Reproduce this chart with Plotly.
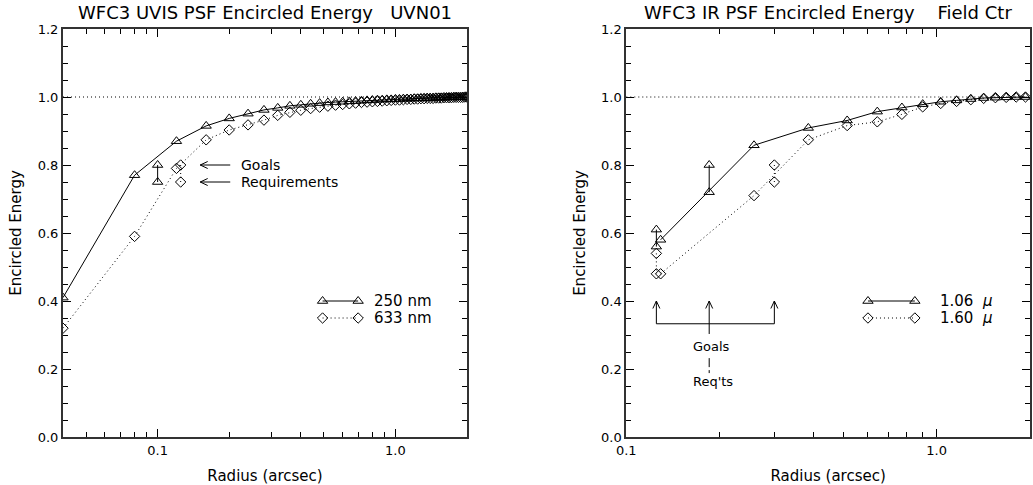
import math
import plotly.graph_objects as go

# ---------------- data ----------------
uvis_radius = [0.04, 0.08, 0.12, 0.16, 0.20, 0.24, 0.28, 0.32, 0.36, 0.40,
               0.44, 0.48, 0.52, 0.56, 0.60, 0.64, 0.68, 0.72, 0.76, 0.80,
               0.84, 0.88, 0.92, 0.96, 1.00, 1.04, 1.08, 1.12, 1.16, 1.20,
               1.24, 1.28, 1.32, 1.36, 1.40, 1.44, 1.48, 1.52, 1.56, 1.60,
               1.64, 1.68, 1.72, 1.76, 1.80, 1.84, 1.88, 1.92, 1.96, 2.00]
uvis_250nm = [0.41, 0.77, 0.87, 0.915, 0.937, 0.951, 0.962, 0.968, 0.974, 0.977,
              0.980, 0.982, 0.984, 0.985, 0.986, 0.987, 0.988, 0.989, 0.990, 0.991,
              0.992, 0.992, 0.993, 0.993, 0.994, 0.994, 0.995, 0.995, 0.995, 0.996,
              0.996, 0.996, 0.997, 0.997, 0.997, 0.997, 0.998, 0.998, 0.998, 0.998,
              0.998, 0.999, 0.999, 0.999, 0.999, 0.999, 0.999, 1.000, 1.000, 1.000]
uvis_633nm = [0.32, 0.59, 0.79, 0.874, 0.903, 0.918, 0.932, 0.946, 0.955, 0.961,
              0.966, 0.970, 0.973, 0.976, 0.978, 0.980, 0.982, 0.984, 0.985, 0.986,
              0.987, 0.988, 0.989, 0.990, 0.991, 0.991, 0.992, 0.993, 0.993, 0.994,
              0.994, 0.995, 0.995, 0.996, 0.996, 0.996, 0.997, 0.997, 0.997, 0.998,
              0.998, 0.998, 0.998, 0.999, 0.999, 0.999, 0.999, 0.999, 1.000, 1.000]

# goals / requirements (UVIS)
uvis_250_spec_r = [0.10, 0.10]
uvis_250_spec = [0.80, 0.75]
uvis_633_spec_r = [0.125, 0.125]
uvis_633_spec = [0.80, 0.75]

ir_radius = [0.129, 0.258, 0.386, 0.515, 0.644, 0.773, 0.902, 1.031, 1.16,
             1.289, 1.418, 1.547, 1.676, 1.805, 1.934]
ir_106 = [0.58, 0.858, 0.909, 0.931, 0.957, 0.969, 0.979, 0.986, 0.990,
          0.994, 0.997, 0.998, 0.999, 1.000, 1.000]
ir_160 = [0.48, 0.71, 0.874, 0.916, 0.927, 0.949, 0.971, 0.981, 0.987,
          0.992, 0.996, 0.998, 0.999, 1.000, 1.000]

# goals / requirements (IR)
ir_106_spec_r = [0.125, 0.185]
ir_106_goal = [0.61, 0.80]
ir_106_req = [0.56, 0.72]
ir_160_spec_r = [0.125, 0.30]
ir_160_goal = [0.54, 0.80]
ir_160_req = [0.48, 0.75]

# ---------------- style ----------------
W, H = 1033, 485
ML, MR, MT, MB = 63, 3, 29, 48
PW = W - ML - MR
PH = H - MT - MB
FONT = "DejaVu Sans"
BLACK = "#000000"
DOT = "1px,3px"
TRI = dict(symbol="triangle-up-open", size=9, color=BLACK, line=dict(width=1, color=BLACK))
DIA = dict(symbol="diamond-open", size=8, color=BLACK, line=dict(width=1, color=BLACK))

XR1 = [math.log10(0.04), math.log10(2.0)]
XR2 = [math.log10(0.1), math.log10(2.0)]
YR = [0, 1.2]
XD1 = [0, 404 / PW]
XD2 = [(626.3 - ML) / PW, 1]
# pixel scales (px per decade / px per unit)
SX1 = (XD1[1] - XD1[0]) * PW / (XR1[1] - XR1[0])
SX2 = (XD2[1] - XD2[0]) * PW / (XR2[1] - XR2[0])
SY = PH / (YR[1] - YR[0])

fig = go.Figure()


def add(x, y, xa, ya, marker=None, dash="solid", mode="lines+markers", width=1):
    fig.add_trace(go.Scatter(
        x=x, y=y, xaxis=xa, yaxis=ya, mode=mode,
        line=dict(color=BLACK, width=width, dash=dash),
        marker=marker, showlegend=False, hoverinfo="skip"))


# Left panel data
add(uvis_radius, uvis_250nm, "x", "y", TRI)
add(uvis_radius, uvis_633nm, "x", "y", DIA, DOT)
add(uvis_250_spec_r, uvis_250_spec, "x", "y", TRI)
add(uvis_633_spec_r, uvis_633_spec, "x", "y", DIA, DOT)

# Right panel data
add(ir_radius, ir_106, "x2", "y2", TRI)
add(ir_radius, ir_160, "x2", "y2", DIA, DOT)
for r, g, q in zip(ir_106_spec_r, ir_106_goal, ir_106_req):
    add([r, r], [g, q], "x2", "y2", TRI)
for r, g, q in zip(ir_160_spec_r, ir_160_goal, ir_160_req):
    add([r, r], [g, q], "x2", "y2", DIA, DOT)

# legends (drawn IDL-style inside the plot)
LEG_L = dict(x0=0.494, x1=0.697, tx=0.80, y1=0.40, y2=0.35)
LEG_R = dict(x0=0.601, x1=0.851, tx=1.01, y1=0.40, y2=0.35)
add([LEG_L["x0"], LEG_L["x1"]], [LEG_L["y1"]] * 2, "x", "y", TRI)
add([LEG_L["x0"], LEG_L["x1"]], [LEG_L["y2"]] * 2, "x", "y", DIA, DOT)
add([LEG_R["x0"], LEG_R["x1"]], [LEG_R["y1"]] * 2, "x2", "y2", TRI)
add([LEG_R["x0"], LEG_R["x1"]], [LEG_R["y2"]] * 2, "x2", "y2", DIA, DOT)

annotations = []


def text(x, y, s, xr, yr, size=14, xanchor="left"):
    annotations.append(dict(x=math.log10(x), y=y, xref=xr, yref=yr, text=s,
                            showarrow=False, xanchor=xanchor, yanchor="middle",
                            font=dict(family=FONT, size=size, color=BLACK)))


HEAD_L, HEAD_W = 7.5, 3.5  # arrowhead length / half-width in px

# Left panel: Goals / Requirements arrows (pointing left)
ARR_TAIL, ARR_TIP = 0.202, 0.151
ax_, ay_ = [], []
for yv in uvis_250_spec:
    ax_ += [ARR_TAIL, ARR_TIP, None]
    ay_ += [yv, yv, None]
    xb = 10 ** (math.log10(ARR_TIP) + HEAD_L / SX1)
    ax_ += [xb, ARR_TIP, xb, None]
    ay_ += [yv + HEAD_W / SY, yv, yv - HEAD_W / SY, None]
add(ax_, ay_, "x", "y", mode="lines")
text(0.22, uvis_250_spec[0], "Goals", "x", "y")
text(0.22, uvis_250_spec[1], "Requirements", "x", "y")

# Right panel: bracket with up arrows
BR_Y0, BR_Y1, BR_STEM = 0.333, 0.40, 0.303
spec_xs = [ir_106_spec_r[0], ir_106_spec_r[1], ir_160_spec_r[1]]
bx, by = [], []
for xs in spec_xs:
    bx += [xs, xs, None]
    by += [BR_Y0, BR_Y1, None]
    xl = 10 ** (math.log10(xs) - HEAD_W / SX2)
    xr = 10 ** (math.log10(xs) + HEAD_W / SX2)
    bx += [xl, xs, xr, None]
    by += [BR_Y1 - HEAD_L / SY, BR_Y1, BR_Y1 - HEAD_L / SY, None]
bx += [spec_xs[0], spec_xs[-1], None, spec_xs[1], spec_xs[1]]
by += [BR_Y0, BR_Y0, None, BR_Y0, BR_STEM]
add(bx, by, "x2", "y2", mode="lines")
add([spec_xs[1], spec_xs[1]], [0.232, 0.188], "x2", "y2", dash="dashdot", mode="lines")
text(0.1615, 0.265, "Goals", "x2", "y2", size=13)
text(0.1615, 0.164, "Req'ts", "x2", "y2", size=13)

text(LEG_L["tx"], LEG_L["y1"], "250 nm", "x", "y", size=15)
text(LEG_L["tx"], LEG_L["y2"], "633 nm", "x", "y", size=15)
text(LEG_R["tx"], LEG_R["y1"], "1.06  <i>\u03bc</i>", "x2", "y2", size=15)
text(LEG_R["tx"], LEG_R["y2"], "1.60  <i>\u03bc</i>", "x2", "y2", size=15)

# Titles
NB = "\u00a0"
TY = 1 + (MT - 13) / PH
annotations.append(dict(x=0.5, y=TY, xref="x domain", yref="paper", yanchor="middle",
                        text=f"WFC3 UVIS PSF Encircled Energy{NB*3}UVN01", showarrow=False,
                        font=dict(family=FONT, size=18, color=BLACK)))
annotations.append(dict(x=0.5, y=TY, xref="x2 domain", yref="paper", yanchor="middle",
                        text=f"WFC3 IR PSF Encircled Energy{NB*4}Field Ctr", showarrow=False,
                        font=dict(family=FONT, size=18, color=BLACK)))

minor_l = [0.05, 0.06, 0.07, 0.08, 0.09, 0.2, 0.3, 0.4, 0.5, 0.6, 0.7, 0.8, 0.9]
minor_r = [0.2, 0.3, 0.4, 0.5, 0.6, 0.7, 0.8, 0.9]


def xaxis(dom, rng, minor_vals, anchor):
    return dict(domain=dom, type="log", range=rng, anchor=anchor, automargin=False,
                tickvals=[0.1, 1.0], ticktext=["0.1", "1.0"],
                ticks="inside", ticklen=8, tickwidth=1, tickcolor=BLACK,
                minor=dict(tickvals=minor_vals, ticks="inside", ticklen=5,
                           tickwidth=1, tickcolor=BLACK, showgrid=False),
                showline=True, linecolor="#333333", linewidth=2, mirror="allticks",
                showgrid=False, zeroline=False,
                tickfont=dict(family=FONT, size=13, color=BLACK),
                title=dict(text="Radius (arcsec)", standoff=14,
                           font=dict(family=FONT, size=15, color=BLACK)))


def yaxis(anchor):
    return dict(domain=[0, 1], range=YR, anchor=anchor, automargin=False,
                tickvals=[0, 0.2, 0.4, 0.6, 0.8, 1.0, 1.2],
                ticktext=["0.0", "0.2", "0.4", "0.6", "0.8", "1.0", "1.2"],
                ticks="inside", ticklen=8, tickwidth=1, tickcolor=BLACK,
                minor=dict(dtick=0.05, ticks="inside", ticklen=5, tickwidth=1,
                           tickcolor=BLACK, showgrid=False),
                showline=True, linecolor="#333333", linewidth=2, mirror="allticks",
                showgrid=False, zeroline=False,
                tickfont=dict(family=FONT, size=13, color=BLACK),
                title=dict(text="Encircled Energy", standoff=12,
                           font=dict(family=FONT, size=15, color=BLACK)))


shapes = [
    dict(type="line", xref="x domain", yref="y", x0=0, x1=1, y0=1.0, y1=1.0,
         line=dict(color=BLACK, width=1, dash=DOT)),
    dict(type="line", xref="x2 domain", yref="y2", x0=0, x1=1, y0=1.0, y1=1.0,
         line=dict(color=BLACK, width=1, dash=DOT)),
]

fig.update_layout(
    width=W, height=H, margin=dict(l=ML, r=MR, t=MT, b=MB, autoexpand=False),
    paper_bgcolor="white", plot_bgcolor="white",
    xaxis=xaxis(XD1, XR1, minor_l, "y"),
    yaxis=yaxis("x"),
    xaxis2=xaxis(XD2, XR2, minor_r, "y2"),
    yaxis2=yaxis("x2"),
    annotations=annotations, shapes=shapes,
    showlegend=False,
)

fig.write_html("out.html")
